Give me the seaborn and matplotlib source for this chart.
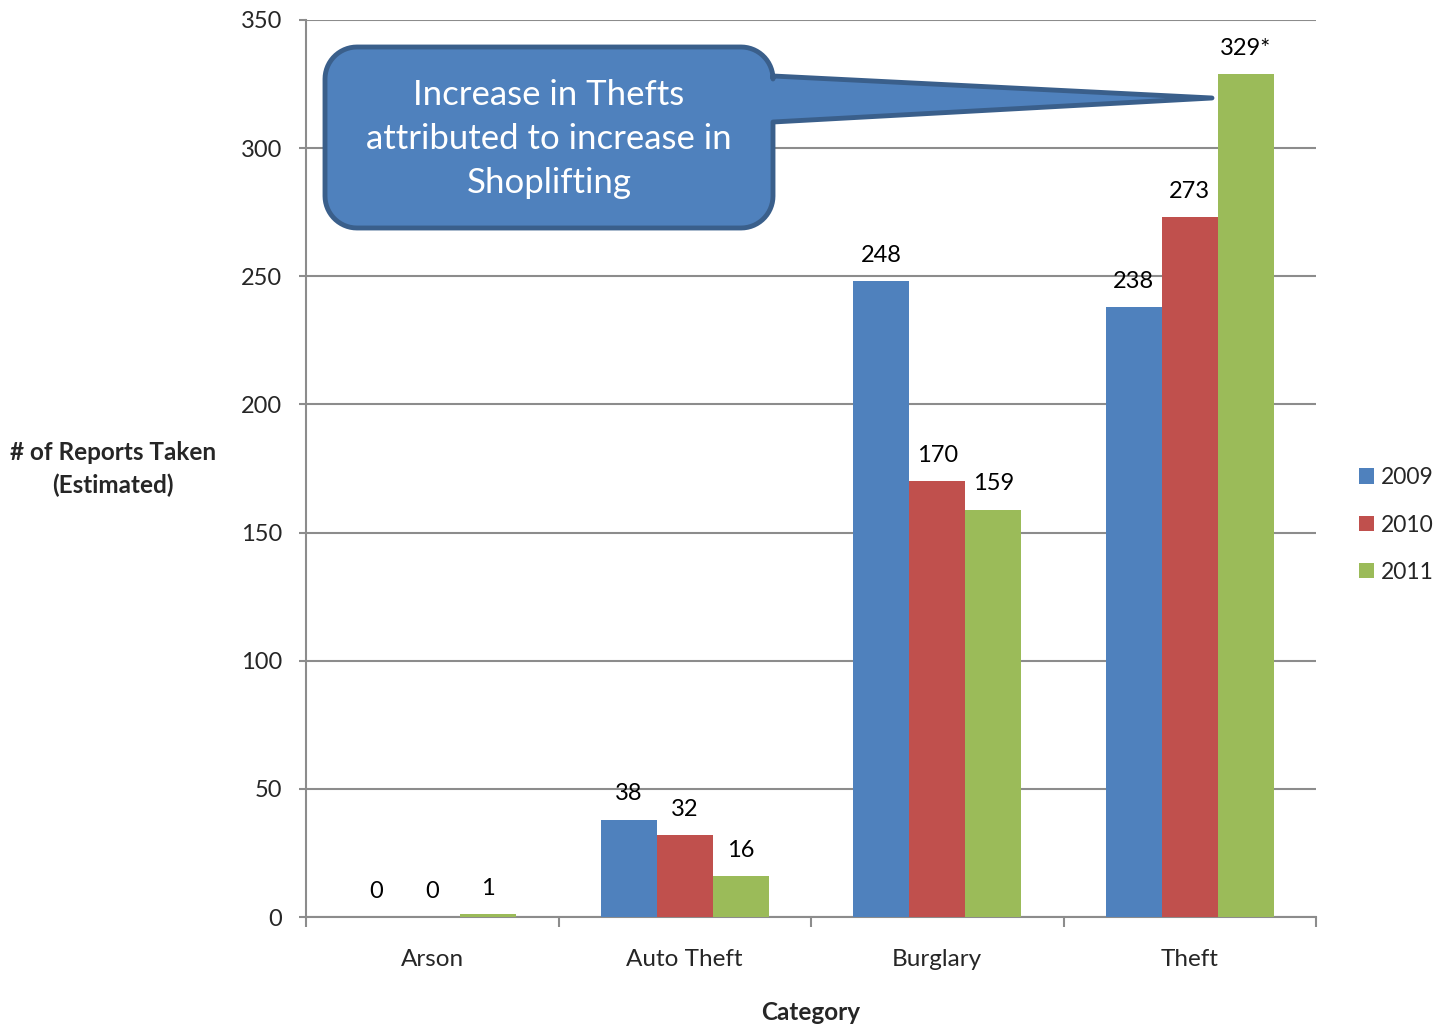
#!/usr/bin/env python3
"""Reports taken per category, 2009-2011, with a callout on the Theft jump."""

import numpy as np
import pandas as pd
import matplotlib
matplotlib.use("Agg")
import matplotlib.pyplot as plt
from matplotlib.patches import Patch, Polygon
import seaborn as sns

categories = ["Arson", "Auto Theft", "Burglary", "Theft"]
years = ["2009", "2010", "2011"]
reports_2009 = [0, 38, 248, 238]
reports_2010 = [0, 32, 170, 273]
reports_2011 = [1, 16, 159, 329]
label_2011 = ["1", "16", "159", "329*"]
colors = ["#4F81BD", "#C0504D", "#9BBB59"]

W, H = 1437, 1027


def px(x, y):
    """pixel coords (top-left origin) -> figure fraction"""
    return x / W, 1 - y / H


def callout_points(x0, y0, x1, y1, r, tip, wedge_top, wedge_bot):
    pts = []

    def arc(cx, cy, a0, a1):
        for a in np.linspace(np.radians(a0), np.radians(a1), 16):
            pts.append((cx + r * np.cos(a), cy - r * np.sin(a)))

    arc(x0 + r, y0 + r, 180, 90)          # top-left
    arc(x1 - r, y0 + r, 90, 0)            # top-right
    pts.append((x1, wedge_top))
    pts.append(tip)
    pts.append((x1, wedge_bot))
    arc(x1 - r, y1 - r, 0, -90)           # bottom-right
    arc(x0 + r, y1 - r, 270, 180)         # bottom-left
    return [px(x, y) for x, y in pts]


sns.set_theme(style="white")
plt.rcParams["font.family"] = ["Lato", "DejaVu Sans"]

df = pd.DataFrame({
    "Category": categories * 3,
    "Year": [y for y in years for _ in categories],
    "Reports": reports_2009 + reports_2010 + reports_2011,
})

fig = plt.figure(figsize=(W / 100, H / 100), dpi=100)
ax = fig.add_axes([306 / W, 110 / H, 1010 / W, 897 / H])

sns.barplot(data=df, x="Category", y="Reports", hue="Year", order=categories,
            hue_order=years, palette=colors, width=0.665, saturation=1,
            linewidth=0, legend=False, ax=ax, zorder=3)

for cont, labels in zip(ax.containers, [reports_2009, reports_2010, label_2011]):
    ax.bar_label(cont, labels=[str(v) for v in labels], padding=11,
                 fontsize=17, color="black")

ax.set_xlim(-0.5, 3.5)
ax.set_ylim(0, 350)
ax.set_yticks(range(0, 351, 50))
ax.yaxis.grid(True, color="#8C8C8C", linewidth=1.5, zorder=0)
ax.set_axisbelow(True)
for side in ["top", "right"]:
    ax.spines[side].set_visible(False)
for side in ["left", "bottom"]:
    ax.spines[side].set_color("#8C8C8C")
    ax.spines[side].set_linewidth(1.5)

ax.tick_params(axis="y", length=5, width=1.5, color="#8C8C8C", pad=12,
               labelsize=17, left=True)
ax.tick_params(axis="x", which="major", length=0, pad=23, labelsize=17.5)
ax.set_xticks(np.arange(-0.5, 4.0, 1.0), minor=True)
ax.tick_params(axis="x", which="minor", length=7, width=1.5, color="#8C8C8C",
               bottom=True)
ax.set_xlabel("")
ax.set_ylabel("")

fig.text(113 / W, 1 - 469 / H, "# of Reports Taken\n(Estimated)", ha="center",
         va="center", fontsize=17.5, fontweight="bold", linespacing=1.45)
fig.text(811 / W, 1 - 1012 / H, "Category", ha="center", va="center",
         fontsize=17.5, fontweight="bold")

handles = [Patch(facecolor=c, edgecolor="none", label=y) for c, y in zip(colors, years)]
fig.legend(handles=handles, loc="center left", bbox_to_anchor=(1350 / W, 1 - 525 / H),
           frameon=False, fontsize=16.5, handlelength=0.65, handleheight=0.65,
           handletextpad=0.3, labelspacing=1.15, borderaxespad=0)

shape = Polygon(callout_points(325, 47, 773, 228, 32, (1212, 98), 76, 122),
                closed=True, transform=fig.transFigure, facecolor="#4F81BD",
                edgecolor="#3A5F8B", linewidth=3.5, joinstyle="round", zorder=5)
fig.add_artist(shape)
fig.text(549 / W, 1 - 139 / H,
         "Increase in Thefts\nattributed to increase in\nShoplifting",
         ha="center", va="center", color="white", fontsize=25, linespacing=1.46,
         zorder=6)

fig.savefig("out.png", dpi=100)
